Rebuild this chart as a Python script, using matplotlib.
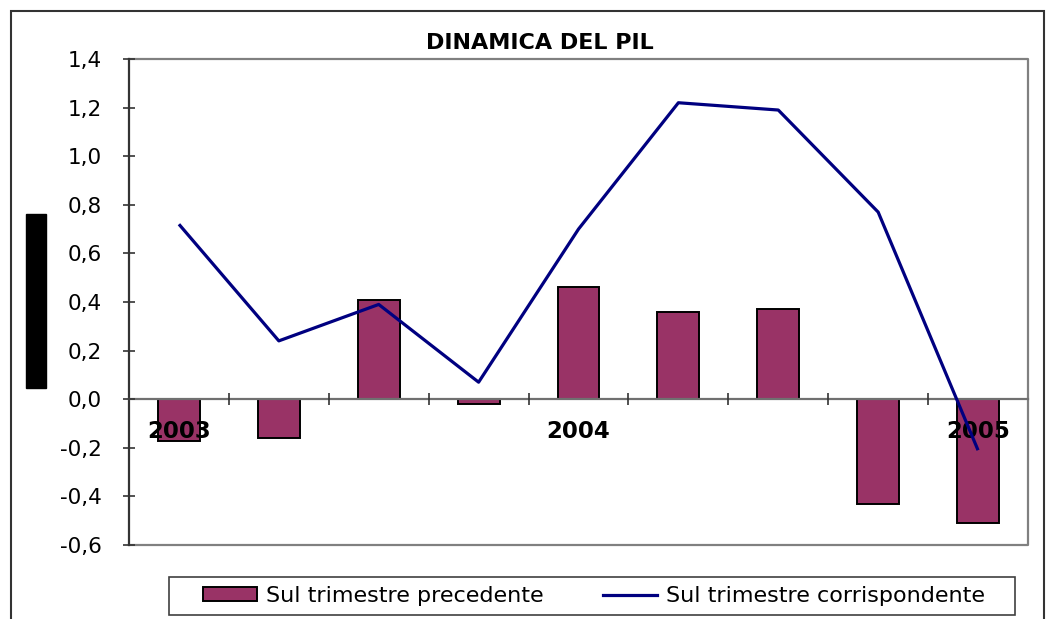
import matplotlib
matplotlib.use("Agg")
import matplotlib.pyplot as plt
from matplotlib.patches import Rectangle
from matplotlib.lines import Line2D
from matplotlib.patches import Patch
import numpy as np

plt.rcParams['font.family'] = ['DejaVu Sans']

quarters = ["2003", "", "", "", "2004", "", "", "", "2005"]
sul_precedente = [-0.17, -0.16, 0.41, -0.02, 0.46, 0.36, 0.37, -0.43, -0.51]
sul_corrispondente = [0.72, 0.24, 0.39, 0.07, 0.70, 1.22, 1.19, 0.77, -0.21]
yticks = [-0.6, -0.4, -0.2, 0.0, 0.2, 0.4, 0.6, 0.8, 1.0, 1.2, 1.4]
title = "DINAMICA DEL PIL"
legend_labels = ["Sul trimestre precedente", "Sul trimestre corrispondente"]

W, H = 1046, 619
fig = plt.figure(figsize=(W / 100, H / 100), dpi=100)
ax = fig.add_axes([129 / W, 1 - 545 / H, (1028 - 129) / W, (545 - 59) / H])
ax.set_axisbelow(False)

x = np.arange(len(quarters))
bar_color = "#993366"
line_color = "#000080"

ax.bar(x, sul_precedente, width=0.42, color=bar_color, edgecolor="black", linewidth=1.4, zorder=2)
ax.plot(x, sul_corrispondente, color=line_color, linewidth=2.3, zorder=3, solid_capstyle="butt")

ax.set_xlim(-0.5, len(quarters) - 0.5)
ax.set_ylim(-0.6, 1.4)

# y axis
ax.set_yticks(yticks)
ax.set_yticklabels([f"{v:.1f}".replace(".", ",") for v in yticks], fontsize=15.5)
ax.tick_params(axis="y", direction="inout", length=9, pad=15, width=1.2, colors="#333333")
ax.tick_params(axis="y", labelcolor="black")

# x axis at zero
ax.spines["bottom"].set_position(("data", 0))
ax.spines["bottom"].set_color("#707070")
ax.spines["bottom"].set_linewidth(1.6)
ax.spines["left"].set_color("#333333")
ax.spines["left"].set_linewidth(1.6)
for s in ["top", "right"]:
    ax.spines[s].set_visible(False)

ax.set_xticks(x)
ax.set_xticklabels(quarters, fontsize=16.5, fontweight="bold")
ax.tick_params(axis="x", which="major", length=0, pad=15)
ax.set_xticks(x[:-1] + 0.5, minor=True)
ax.tick_params(axis="x", which="minor", direction="inout", length=9, width=1.2, colors="#333333")

# plot area border (top, right, bottom)
ax.plot([0, 1, 1, 0], [1, 1, 0, 0], transform=ax.transAxes, color="#808080",
        linewidth=1.6, clip_on=False, zorder=1)

# title
fig.text(0.516, 1 - 43 / H, title, ha="center", va="center", fontsize=16, fontweight="bold")

# outer chart border
fig.add_artist(Rectangle((11 / W, -0.05), (1044 - 11) / W, 1.05 - 11 / H,
                         transform=fig.transFigure, fill=False, edgecolor="#333333", linewidth=1.5))

# black box on left
fig.add_artist(Rectangle((26 / W, 1 - 388 / H), 20 / W, (388 - 214) / H,
                         transform=fig.transFigure, facecolor="black", edgecolor="black"))

# legend frame
fig.add_artist(Rectangle((169 / W, 1 - 615 / H), (1015 - 169) / W, (615 - 577) / H,
                         transform=fig.transFigure, facecolor="white", edgecolor="#404040", linewidth=1.2))

# legend
handles = [Patch(facecolor=bar_color, edgecolor="black", linewidth=1.4),
           Line2D([0], [0], color=line_color, linewidth=2.3)]
leg = fig.legend(handles, legend_labels, loc="center", bbox_to_anchor=(594 / W, 1 - 596 / H),
                 ncol=2, fontsize=16, frameon=False,
                 handlelength=2.4, handleheight=0.6, columnspacing=2.7, handletextpad=0.4,
                 borderpad=0.1, borderaxespad=0)
leg.set_zorder(5)

fig.savefig("out.png", dpi=100)
